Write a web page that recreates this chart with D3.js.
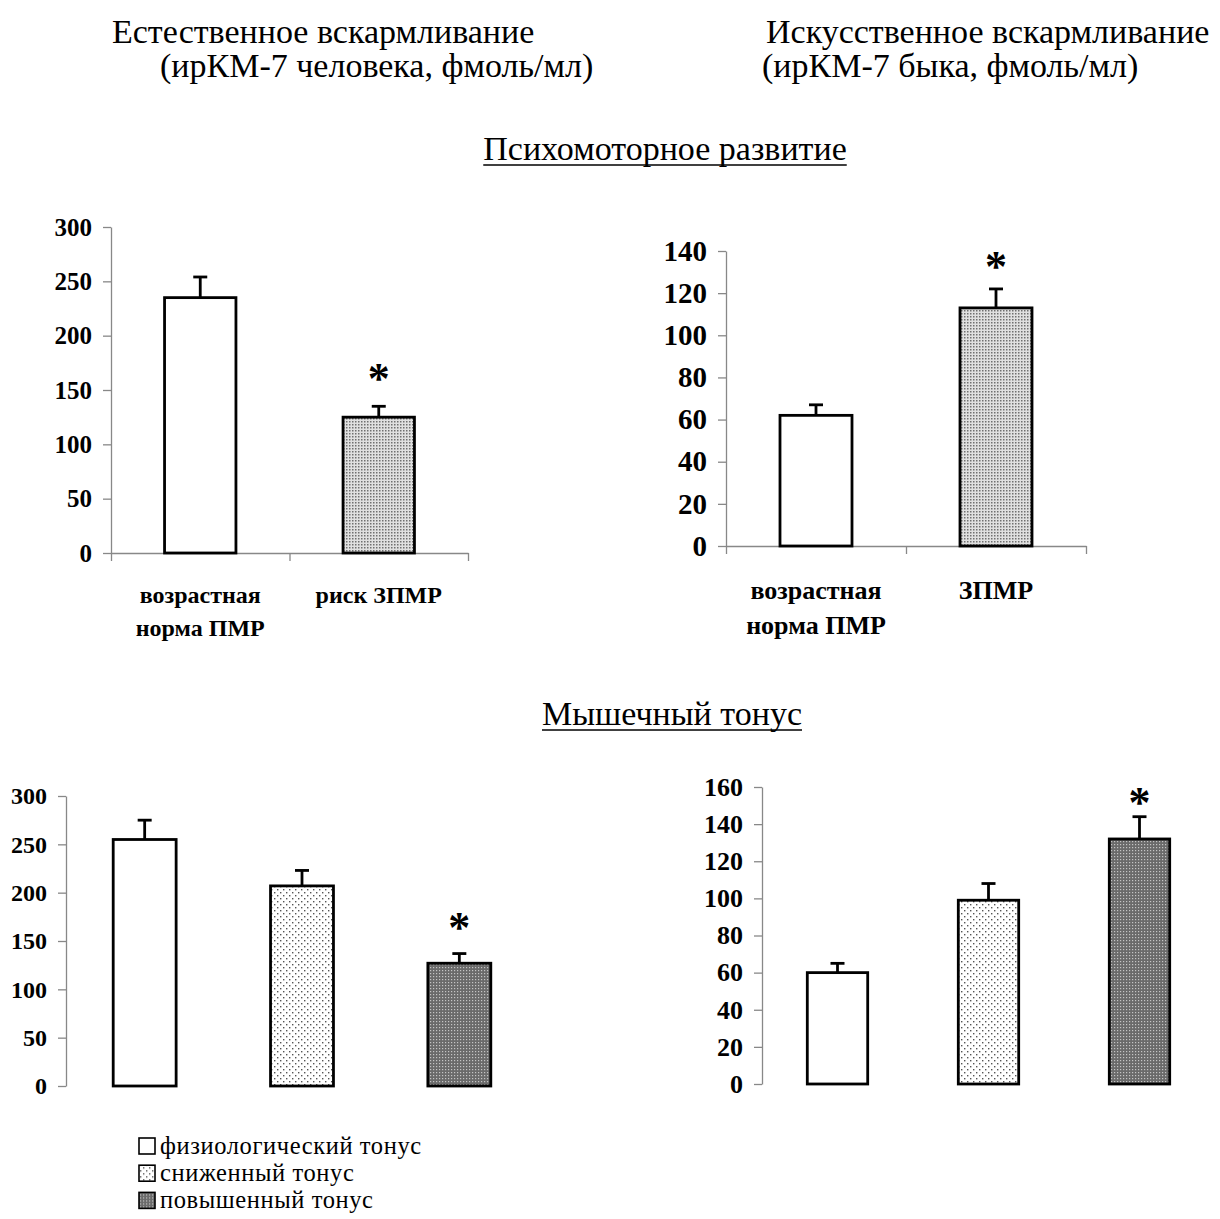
<!DOCTYPE html>
<html>
<head>
<meta charset="utf-8">
<script src="https://cdn.jsdelivr.net/npm/d3@7"></script>
<style>
  body { margin: 0; background: #fff; }
  svg text { font-family: "Liberation Serif", "Times New Roman", serif; fill: #000; }
</style>
</head>
<body>
<svg id="chart" width="1220" height="1219"></svg>
<script>
// data
const psyNatCats = [["возрастная", "норма ПМР"], ["риск ЗПМР"]];
const psyNatMean = [235, 125];
const psyNatErr = [19, 10];
const psyNatSig = [false, true];
const psyNatTicks = [0, 50, 100, 150, 200, 250, 300];

const psyArtCats = [["возрастная", "норма ПМР"], ["ЗПМР"]];
const psyArtMean = [62, 113];
const psyArtErr = [5, 9];
const psyArtSig = [false, true];
const psyArtTicks = [0, 20, 40, 60, 80, 100, 120, 140];

const toneCats = ["физиологический тонус", "сниженный тонус", "повышенный тонус"];
const toneNatMean = [255, 207, 127];
const toneNatErr = [20, 16, 10];
const toneNatSig = [false, false, true];
const toneNatTicks = [0, 50, 100, 150, 200, 250, 300];

const toneArtMean = [60, 99, 132];
const toneArtErr = [5, 9, 12];
const toneArtSig = [false, false, true];
const toneArtTicks = [0, 20, 40, 60, 80, 100, 120, 140, 160];

const svg = d3.select("#chart");

// fill patterns
const defs = svg.append("defs");
let p = defs.append("pattern").attr("id", "medDots").attr("patternUnits", "userSpaceOnUse")
    .attr("width", 3).attr("height", 3);
p.append("rect").attr("width", 3).attr("height", 3).attr("fill", "#e0e0e0");
p.append("rect").attr("x", 1).attr("y", 1).attr("width", 1.5).attr("height", 1.5).attr("fill", "#707070");

p = defs.append("pattern").attr("id", "lightDots").attr("patternUnits", "userSpaceOnUse")
    .attr("width", 6).attr("height", 6);
p.append("rect").attr("width", 6).attr("height", 6).attr("fill", "#fff");
p.append("rect").attr("x", 1).attr("y", 1).attr("width", 1.4).attr("height", 1.4).attr("fill", "#555");
p.append("rect").attr("x", 4).attr("y", 4).attr("width", 1.4).attr("height", 1.4).attr("fill", "#555");

p = defs.append("pattern").attr("id", "darkDots").attr("patternUnits", "userSpaceOnUse")
    .attr("width", 3).attr("height", 3);
p.append("rect").attr("width", 3).attr("height", 3).attr("fill", "#6a6a6a");
p.append("rect").attr("x", 1).attr("y", 1).attr("width", 1.2).attr("height", 1.2).attr("fill", "#c4c4c4");

// headings
svg.append("text").attr("x", 112).attr("y", 43).attr("font-size", 34).text("Естественное вскармливание");
svg.append("text").attr("x", 160).attr("y", 77).attr("font-size", 34).text("(ирКМ-7 человека, фмоль/мл)");
svg.append("text").attr("x", 766).attr("y", 43).attr("font-size", 34).text("Искусственное вскармливание");
svg.append("text").attr("x", 762).attr("y", 77).attr("font-size", 34).text("(ирКМ-7 быка, фмоль/мл)");

function subTitle(label, xMid, yBase) {
    const t = svg.append("text").attr("x", xMid).attr("y", yBase).attr("font-size", 34)
        .attr("text-anchor", "middle").text(label);
    const w = t.node().getComputedTextLength();
    svg.append("line").attr("x1", xMid - w / 2).attr("x2", xMid + w / 2)
        .attr("y1", yBase + 5).attr("y2", yBase + 5)
        .attr("stroke", "#000").attr("stroke-width", 1.6);
}
subTitle("Психомоторное развитие", 665, 160);
subTitle("Мышечный тонус", 672, 725);

function panel(cfg) {
    const g = svg.append("g");
    const n = cfg.mean.length;

    const x = d3.scaleBand().domain(d3.range(n)).range([cfg.x0, cfg.x1])
        .paddingInner(0.6).paddingOuter(0.3);
    const y = d3.scaleLinear().domain([0, d3.max(cfg.ticks)]).range([cfg.y0, cfg.yTop]);

    const yAxis = g.append("g").attr("transform", `translate(${cfg.x0},0)`)
        .call(d3.axisLeft(y).tickValues(cfg.ticks).tickSize(8).tickSizeOuter(0).tickPadding(11));
    yAxis.selectAll("path, line").attr("stroke", "#888").attr("stroke-width", 1.3);
    yAxis.selectAll("text").attr("font-family", "Liberation Serif").attr("font-weight", "bold")
        .attr("font-size", cfg.tickSize).attr("fill", "#000");

    if (cfg.xAxis) {
        const xb = d3.scaleLinear().domain([0, n]).range([cfg.x0, cfg.x1]);
        const xAxis = g.append("g").attr("transform", `translate(0,${cfg.y0})`)
            .call(d3.axisBottom(xb).tickValues(d3.range(n + 1)).tickFormat("").tickSize(8).tickSizeOuter(0));
        xAxis.selectAll("path, line").attr("stroke", "#888").attr("stroke-width", 1.3);
    }

    // error bars
    const cx = i => x(i) + x.bandwidth() / 2;
    const eb = g.selectAll(".err").data(cfg.mean).enter().append("g").attr("class", "err");
    eb.append("line")
        .attr("x1", (d, i) => cx(i)).attr("x2", (d, i) => cx(i))
        .attr("y1", d => y(d)).attr("y2", (d, i) => y(d + cfg.err[i]));
    eb.append("line")
        .attr("x1", (d, i) => cx(i) - 7).attr("x2", (d, i) => cx(i) + 7)
        .attr("y1", (d, i) => y(d + cfg.err[i])).attr("y2", (d, i) => y(d + cfg.err[i]));
    eb.selectAll("line").attr("stroke", "#000").attr("stroke-width", 2.8);

    g.selectAll(".bar").data(cfg.mean).enter().append("rect").attr("class", "bar")
        .attr("x", (d, i) => x(i)).attr("width", x.bandwidth())
        .attr("y", d => y(d)).attr("height", d => y(0) - y(d))
        .attr("fill", (d, i) => cfg.fills[i])
        .attr("stroke", "#000").attr("stroke-width", 2.8);

    cfg.mean.forEach((d, i) => {
        if (!cfg.sig[i]) return;
        g.append("text").attr("class", "star")
            .attr("x", cx(i)).attr("y", y(d + cfg.err[i]) - cfg.starGap)
            .attr("text-anchor", "middle").attr("font-weight", "bold").attr("font-size", 44)
            .text("*");
    });

    if (cfg.cats) {
        cfg.cats.forEach((lines, i) => {
            lines.forEach((s, k) => {
                g.append("text").attr("x", cx(i))
                    .attr("y", cfg.catY + k * cfg.catLine)
                    .attr("text-anchor", "middle").attr("font-weight", "bold")
                    .attr("font-size", cfg.catSize).text(s);
            });
        });
    }
}

panel({ mean: psyNatMean, err: psyNatErr, sig: psyNatSig, ticks: psyNatTicks, cats: psyNatCats,
    x0: 111, x1: 468, y0: 553, yTop: 227, xAxis: true, tickSize: 25,
    fills: ["#fff", "url(#medDots)"], starGap: 13, catY: 603, catLine: 33, catSize: 24 });

panel({ mean: psyArtMean, err: psyArtErr, sig: psyArtSig, ticks: psyArtTicks, cats: psyArtCats,
    x0: 726, x1: 1086, y0: 546, yTop: 251, xAxis: true, tickSize: 29,
    fills: ["#fff", "url(#medDots)"], starGap: 8, catY: 599, catLine: 35, catSize: 26 });

panel({ mean: toneNatMean, err: toneNatErr, sig: toneNatSig, ticks: toneNatTicks,
    x0: 66, x1: 538, y0: 1086, yTop: 796, xAxis: false, tickSize: 24,
    fills: ["#fff", "url(#lightDots)", "url(#darkDots)"], starGap: 12 });

panel({ mean: toneArtMean, err: toneArtErr, sig: toneArtSig, ticks: toneArtTicks,
    x0: 762, x1: 1215, y0: 1084, yTop: 787, xAxis: false, tickSize: 26,
    fills: ["#fff", "url(#lightDots)", "url(#darkDots)"], starGap: 0 });

// legend
const legendFills = ["#fff", "url(#lightDots)", "url(#darkDots)"];
const lg = svg.append("g").selectAll("g").data(toneCats).enter().append("g")
    .attr("transform", (d, i) => `translate(139,${1154 + i * 27.2})`);
lg.append("rect").attr("x", 0).attr("y", -16).attr("width", 16).attr("height", 16)
    .attr("fill", (d, i) => legendFills[i]).attr("stroke", "#000").attr("stroke-width", 1.6);
lg.append("text").attr("x", 21).attr("y", 0).attr("font-size", 24.5)
    .attr("letter-spacing", 0.6).text(d => d);
</script>
</body>
</html>
